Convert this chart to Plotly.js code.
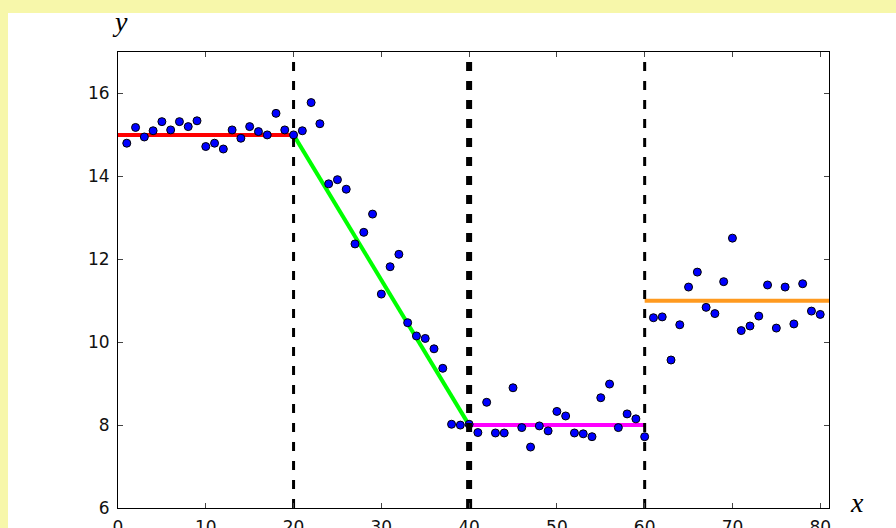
<!DOCTYPE html>
<html>
<head>
<meta charset="utf-8">
<script src="https://cdn.plot.ly/plotly-3.0.1.min.js"></script>
<style>
  html, body { margin: 0; padding: 0; background: #f7f7aa; width: 896px; height: 528px; overflow: hidden; }
  #chart { position: absolute; left: 8px; top: 13px; width: 888px; height: 515px; background: #ffffff; }
</style>
</head>
<body>
<div id="chart"></div>
<script>
// Observed samples (x = 1..80)
const xValues = [];
for (let i = 1; i <= 80; i++) xValues.push(i);
const yValues = [
  14.80, 15.18, 14.95, 15.10, 15.32, 15.12, 15.32, 15.20, 15.34, 14.72,
  14.80, 14.66, 15.12, 14.92, 15.20, 15.08, 15.00, 15.52, 15.12, 15.00,
  15.10, 15.78, 15.27, 13.82, 13.92, 13.69, 12.37, 12.65, 13.09, 11.16,
  11.82, 12.12, 10.47, 10.15, 10.09, 9.84, 9.37, 8.02, 8.00, 8.02,
  7.82, 8.55, 7.81, 7.81, 8.90, 7.94, 7.47, 7.98, 7.86, 8.33,
  8.22, 7.81, 7.79, 7.72, 8.66, 8.99, 7.94, 8.27, 8.15, 7.72,
  10.59, 10.61, 9.57, 10.42, 11.33, 11.69, 10.84, 10.69, 11.46, 12.51,
  10.28, 10.39, 10.63, 11.38, 10.34, 11.33, 10.44, 11.41, 10.75, 10.67
];

// Piecewise fitted segments
const segX = [[0, 20], [20, 40], [40, 60], [60, 81]];
const segY = [[15, 15], [15, 8], [8, 8], [11, 11]];
const segColors = ['#ff0000', '#00ff00', '#ff00ff', '#ff9a1f'];

// Breakpoints (vertical dashed lines)
const breakX = [20, 40, 60];
const breakWidths = [3, 6, 3];

// Axes
const xRange = [0, 81];
const yRange = [6, 17];
const xTicks = [0, 10, 20, 30, 40, 50, 60, 70, 80];
const yTicks = [6, 8, 10, 12, 14, 16];

const traces = [];
segX.forEach((sx, i) => {
  traces.push({
    x: sx, y: segY[i], mode: 'lines', type: 'scatter',
    line: { color: segColors[i], width: 4 }, hoverinfo: 'skip'
  });
});
traces.push({
  x: xValues, y: yValues, mode: 'markers', type: 'scatter',
  marker: { color: '#0000ff', size: 8, line: { color: '#000000', width: 1 } }
});
breakX.forEach((bx, i) => {
  traces.push({
    x: [bx, bx], y: [yRange[0], yRange[1]], mode: 'lines', type: 'scatter',
    line: { color: '#000000', width: breakWidths[i], dash: '9px,10px' }, hoverinfo: 'skip'
  });
});

const axisCommon = {
  showgrid: false, zeroline: false, showline: true, linecolor: '#000000', linewidth: 1,
  mirror: 'ticks', ticks: 'inside', ticklen: 5, tickwidth: 1, tickcolor: '#444444',
  tickfont: { family: 'DejaVu Sans', size: 17, color: '#111111' }
};

const layout = {
  width: 888, height: 515,
  margin: { l: 110, r: 67, t: 39, b: 20 },
  paper_bgcolor: '#ffffff', plot_bgcolor: '#ffffff',
  showlegend: false,
  xaxis: Object.assign({}, axisCommon, { range: xRange, tickmode: 'array', tickvals: xTicks, ticktext: xTicks.map(String), ticklabelstandoff: 4 }),
  yaxis: Object.assign({}, axisCommon, { range: yRange, tickmode: 'array', tickvals: yTicks, ticktext: yTicks.map(String), ticklabelstandoff: 4 }),
  annotations: [
    { text: '<i>y</i>', xref: 'paper', yref: 'paper', x: 0.003, y: 1.066, xanchor: 'center', yanchor: 'middle', showarrow: false,
      font: { family: 'Liberation Serif', size: 28, color: '#000000' } },
    { text: '<i>x</i>', xref: 'paper', yref: 'paper', x: 1.039, y: 0.011, xanchor: 'center', yanchor: 'middle', showarrow: false,
      font: { family: 'Liberation Serif', size: 28, color: '#000000' } }
  ]
};

Plotly.newPlot('chart', traces, layout, { displayModeBar: false, staticPlot: true });
</script>
</body>
</html>
